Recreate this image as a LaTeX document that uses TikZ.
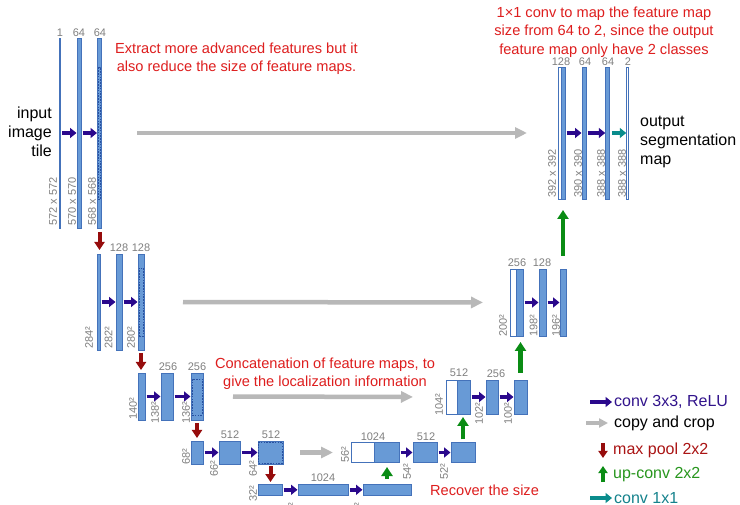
\documentclass[tikz,border=0pt]{standalone}
\usepackage{fontspec}
\setmainfont{Liberation Sans}
\usetikzlibrary{arrows.meta}
\definecolor{barfill}{RGB}{104,154,214}
\definecolor{bardraw}{RGB}{68,114,186}
\definecolor{cropc}{RGB}{40,80,160}
\definecolor{convc}{RGB}{42,8,140}
\definecolor{copyc}{RGB}{184,184,184}
\definecolor{poolc}{RGB}{150,12,12}
\definecolor{upc}{RGB}{10,140,20}
\definecolor{onec}{RGB}{10,140,140}
\definecolor{labc}{RGB}{128,128,128}
\definecolor{notec}{RGB}{222,30,30}
\definecolor{convt}{RGB}{50,20,140}
\definecolor{poolt}{RGB}{170,20,20}
\definecolor{upt}{RGB}{40,150,30}
\definecolor{onet}{RGB}{20,130,140}
\begin{document}
\begin{tikzpicture}[x=1pt,y=-1pt]
\tikzset{
 fm/.style 2 args={draw=bardraw, fill=barfill, line width=0.6pt, inner sep=0pt, outer sep=0pt, minimum width=#1, minimum height=#2},
 fmw/.style 2 args={fm={#1}{#2}, fill=white},
 cropbox/.style 2 args={draw=cropc, line width=0.7pt, dash pattern=on 1.6pt off 1.2pt, inner sep=0pt, outer sep=0pt, minimum width=#1, minimum height=#2},
 lab/.style={text=labc, font=\fontsize{11}{11}\selectfont, inner sep=0pt},
 rlab/.style={lab, rotate=90, anchor=west},
 conv/.style={draw=convc, line width=3.6pt, -{Triangle[length=6.5pt,width=10pt]}, shorten <=1.5pt, shorten >=0.5pt},
 onearr/.style={conv, draw=onec},
 copyarr/.style={draw=copyc, line width=4.5pt, -{Triangle[length=12pt,width=11pt]}},
 poolarr/.style={draw=poolc, line width=4pt, -{Triangle[length=8pt,width=10pt]}},
 uparr/.style={draw=upc, line width=4.5pt, -{Triangle[length=9pt,width=11pt]}},
 notetext/.style={text=notec, font=\fontsize{14.6}{18.5}\selectfont, align=center, inner sep=0pt},
 bigtext/.style={font=\fontsize{16}{19}\selectfont, inner sep=0pt},
 legtext/.style={font=\fontsize{16}{16}\selectfont, inner sep=0pt, anchor=west},
}
\fill[white] (0,0) rectangle (740,505);
\useasboundingbox (0,0) rectangle (740,505);

% contracting path bars
\node[fmw={1.5pt}{190pt}] (L1a) at (60,133) {};
\node[fm={4pt}{190pt}] (L1b) at (79,133) {};
\node[fm={4pt}{190pt}] (L1c) at (99.5,133) {};
\node[cropbox={2.4pt}{132pt}] (C1) at (99.5,133) {};
\node[fm={3pt}{96pt}] (L2a) at (98.5,302) {};
\node[fm={6pt}{96pt}] (L2b) at (119,302) {};
\node[fm={6pt}{96pt}] (L2c) at (141,302) {};
\node[cropbox={4pt}{68pt}] (C2) at (141,302) {};
\node[fm={7pt}{47pt}] (L3a) at (141.5,396.5) {};
\node[fm={12pt}{47pt}] (L3b) at (167,396.5) {};
\node[fm={12pt}{47pt}] (L3c) at (197,396.5) {};
\node[cropbox={10pt}{36pt}] (C3) at (197,397) {};
\node[fm={12pt}{23pt}] (L4a) at (197,452.5) {};
\node[fm={21pt}{23pt}] (L4b) at (229.5,452.5) {};
\node[fm={25pt}{23pt}] (L4c) at (270.5,452.5) {};
\node[cropbox={23.5pt}{21pt}] (C4) at (270.5,452.5) {};
\node[fm={24pt}{11.5pt}] (L5a) at (270,489.8) {};
\node[fm={50pt}{11.5pt}] (L5b) at (323,489.8) {};
\node[fm={48pt}{11.5pt}] (L5c) at (387,489.8) {};
% expanding path bars
\node[fmw={23pt}{20pt}] (R4w) at (362.5,452.5) {};
\node[fm={25pt}{20pt}] (R4b) at (386.5,452.5) {};
\node[fm={24pt}{20pt}] (R4c) at (425,452.5) {};
\node[fm={24pt}{20pt}] (R4d) at (463,452.5) {};
\node[fmw={11pt}{34pt}] (R3w) at (451.5,397) {};
\node[fm={13pt}{34pt}] (R3b) at (463.5,397) {};
\node[fm={12pt}{34pt}] (R3c) at (492,397) {};
\node[fm={13pt}{34pt}] (R3d) at (520.5,397) {};
\node[fmw={6pt}{67pt}] (R2w) at (513,302.5) {};
\node[fm={7pt}{67pt}] (R2b) at (519.5,302.5) {};
\node[fm={7pt}{67pt}] (R2c) at (542.5,302.5) {};
\node[fm={6pt}{67pt}] (R2d) at (563,302.5) {};
\node[fmw={3pt}{132pt}] (R1w) at (559.5,133) {};
\node[fm={4pt}{132pt}] (R1b) at (563,133) {};
\node[fm={4pt}{132pt}] (R1c) at (584,133) {};
\node[fm={3.5pt}{132pt}] (R1d) at (607.5,133) {};
\node[fmw={1.5pt}{132pt}] (R1e) at (627.5,133) {};

% channel labels
\node[lab] (tL1a) at (60,33) {1};
\node[lab] (tL1b) at (79,33) {64};
\node[lab] (tL1c) at (100,33) {64};
\node[lab] (tL2b) at (119,248) {128};
\node[lab] (tL2c) at (141,248) {128};
\node[lab] (tL3b) at (168,367) {256};
\node[lab] (tL3c) at (197,367) {256};
\node[lab] (tL4b) at (230,435) {512};
\node[lab] (tL4c) at (271,435) {512};
\node[lab] (tL5b) at (323,478) {1024};
\node[lab] (tR4) at (373,437) {1024};
\node[lab] (tR4c) at (426,437) {512};
\node[lab] (tR3) at (459,373) {512};
\node[lab] (tR3c) at (496,374) {256};
\node[lab] (tR2) at (517,263) {256};
\node[lab] (tR2c) at (542,263) {128};
\node[lab] (tR1) at (561,62) {128};
\node[lab] (tR1c) at (585,62) {64};
\node[lab] (tR1d) at (608,62) {64};
\node[lab] (tR1e) at (628,62) {2};

% size labels
\node[rlab] (sL1a) at (53,226) {572 x 572};
\node[rlab] (sL1b) at (72,226) {570 x 570};
\node[rlab] (sL1c) at (92,226) {568 x 568};
\node[rlab] (sL2a) at (89,349) {284²};
\node[rlab] (sL2b) at (108.5,349) {282²};
\node[rlab] (sL2c) at (131,349) {280²};
\node[rlab] (sL3a) at (133,420) {140²};
\node[rlab] (sL3b) at (155,424) {138²};
\node[rlab] (sL3c) at (186,424) {136²};
\node[rlab] (sL4a) at (186,465) {68²};
\node[rlab] (sL4b) at (214,477) {66²};
\node[rlab] (sL4c) at (253,477) {64²};
\node[rlab] (sL5a) at (253,502) {32²};
\node[rlab] (sL5b) at (292,519) {30²};
\node[rlab] (sL5c) at (358,519) {28²};
\node[rlab] (sR4w) at (345,463) {56²};
\node[rlab] (sR4c) at (407,480) {54²};
\node[rlab] (sR4d) at (444,480) {52²};
\node[rlab] (sR3w) at (439,416) {104²};
\node[rlab] (sR3c) at (479,425) {102²};
\node[rlab] (sR3d) at (508,425) {100²};
\node[rlab] (sR2w) at (503,337) {200²};
\node[rlab] (sR2c) at (533.5,337) {198²};
\node[rlab] (sR2d) at (556,337) {196²};
\node[rlab] (sR1w) at (552,198) {392 x 392};
\node[rlab] (sR1c) at (578,198) {390 x 390};
\node[rlab] (sR1d) at (601,198) {388 x 388};
\node[rlab] (sR1e) at (622,198) {388 x 388};

% conv arrows
\draw[conv] (L1a.east) -- (L1b.west);
\draw[conv] (L1b.east) -- (L1c.west);
\draw[conv] (L2a.east) -- (L2b.west);
\draw[conv] (L2b.east) -- (L2c.west);
\draw[conv] (L3a.east) -- (L3b.west);
\draw[conv] (L3b.east) -- (L3c.west);
\draw[conv] (L4a.east) -- (L4b.west);
\draw[conv] (L4b.east) -- (L4c.west);
\draw[conv] (L5a.east) -- (L5b.west);
\draw[conv] (L5b.east) -- (L5c.west);
\draw[conv] (R4b.east) -- (R4c.west);
\draw[conv] (R4c.east) -- (R4d.west);
\draw[conv] (R3b.east) -- (R3c.west);
\draw[conv] (R3c.east) -- (R3d.west);
\draw[conv] (R2b.east) -- (R2c.west);
\draw[conv] (R2c.east) -- (R2d.west);
\draw[conv] (R1b.east) -- (R1c.west);
\draw[conv] (R1c.east) -- (R1d.west);
\draw[onearr, shorten <=2.5pt] (R1d.east) -- (R1e.west);

% copy and crop
\draw[copyarr, shorten <=35.5pt, shorten >=31pt] (L1c.east) -- (R1w.west);
\draw[copyarr, shorten <=39pt, shorten >=27pt] (L2c.east) -- (R2w.west);
\draw[copyarr, shorten <=30pt, shorten >=33pt] (L3c.east) -- (R3w.west);
\draw[copyarr, shorten <=17pt, shorten >=18pt] (L4c.east) -- (R4w.west);

% max pool
\draw[poolarr, shorten <=4pt, shorten >=4pt] (L1c.south) -- (L1c.south |- L2a.north);
\draw[poolarr, shorten <=3pt, shorten >=3pt] (L2c.south) -- (L2c.south |- L3a.north);
\draw[poolarr, shorten <=3pt, shorten >=3pt] (L3c.south) -- (L3c.south |- L4a.north);
\draw[poolarr, shorten <=2pt, shorten >=2pt] (L4c.south) -- (L4c.south |- L5a.north);

% up-conv
\draw[uparr, shorten <=5pt, shorten >=4.5pt] (L5c.north) -- (L5c.north |- R4b.south);
\draw[uparr, shorten <=3pt, shorten >=3pt] (R4d.north) -- (R4d.north |- R3b.south);
\draw[uparr, shorten <=7pt, shorten >=6pt] (R3d.north) -- (R3d.north |- R2b.south);
\draw[uparr, shorten <=13pt, shorten >=11pt] (R2d.north) -- (R2d.north |- R1b.south);

% texts
\node[bigtext, align=right, anchor=east] (inp) at (52,132) {input\\image\\tile};
\node[bigtext, align=left, anchor=west] (outp) at (640,142) {output\\segmentation\\map};
\node[notetext] (n1) at (236.5,58.5) {Extract more advanced features but it\\also reduce the size of feature maps.};
\node[notetext] (n2) at (325,373.5) {Concatenation of feature maps, to\\give the localization information};
\node[notetext, anchor=west] (n3) at (430,490) {Recover the size};
\node[notetext] (n4) at (604,32) {1×1 conv to map the feature map\\size from 64 to 2, since the output\\feature map only have 2 classes};

% legend
\coordinate (g1a) at (590,402); \coordinate (g1b) at (612,402);
\draw[conv, shorten <=0pt, shorten >=0pt] (g1a) -- (g1b);
\node[legtext, text=convt] (gt1) at (614,402) {conv 3x3, ReLU};
\coordinate (g2a) at (586,423); \coordinate (g2b) at (608,423);
\draw[copyarr, line width=4pt, -{Triangle[length=9pt,width=9pt]}] (g2a) -- (g2b);
\node[legtext] (gt2) at (614,423) {copy and crop};
\coordinate (g3a) at (603,443); \coordinate (g3b) at (603,458);
\draw[poolarr, line width=3.5pt, -{Triangle[length=7pt,width=9pt]}] (g3a) -- (g3b);
\node[legtext, text=poolt] (gt3) at (613,450) {max pool 2x2};
\coordinate (g4a) at (603,482); \coordinate (g4b) at (603,466);
\draw[uparr, line width=3.5pt, -{Triangle[length=7pt,width=9pt]}] (g4a) -- (g4b);
\node[legtext, text=upt] (gt4) at (613,475) {up-conv 2x2};
\coordinate (g5a) at (590,498); \coordinate (g5b) at (612,498);
\draw[onearr, shorten <=0pt, shorten >=0pt] (g5a) -- (g5b);
\node[legtext, text=onet] (gt5) at (614,498) {conv 1x1};
\end{tikzpicture}
\end{document}
